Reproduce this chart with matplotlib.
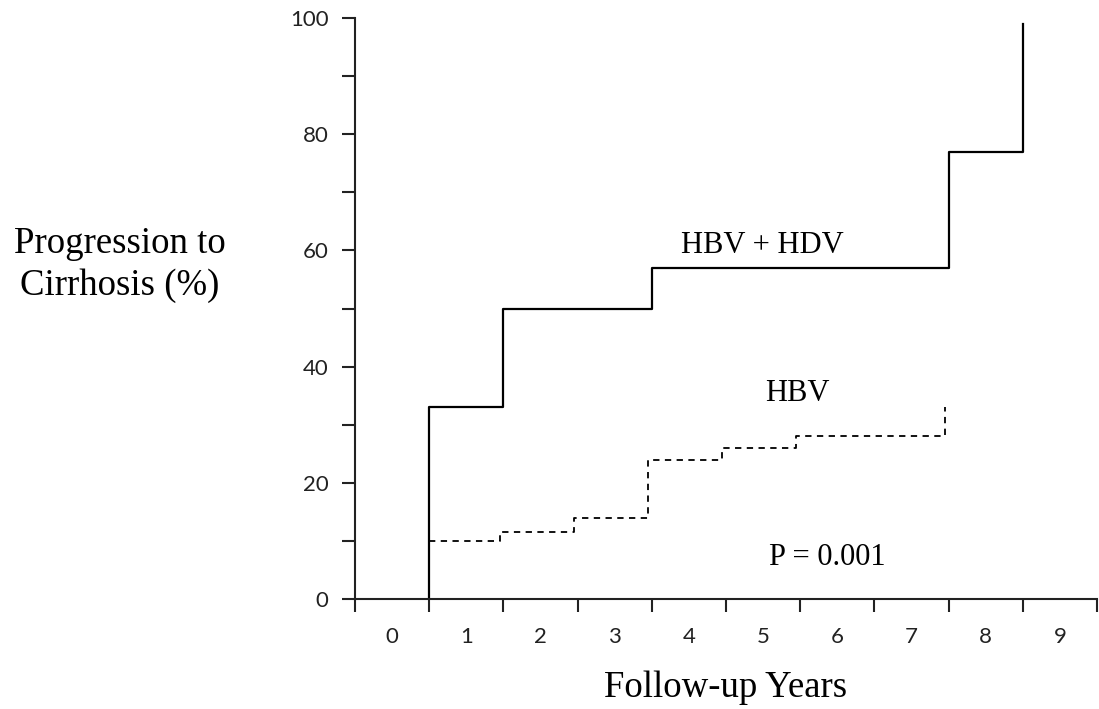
import matplotlib
matplotlib.use('Agg')
import matplotlib.pyplot as plt
import numpy as np

# Data (year positions: label k centred at k, ticks at k +/- 0.5)
year_labels = [str(k) for k in range(10)]
hbv_hdv_time = [0.5, 0.5, 1.5, 3.5, 7.5, 8.5]
hbv_hdv_pct = [0, 33, 50, 57, 77, 99]
hbv_time = [0.5, 1.45, 2.45, 3.45, 4.45, 5.45, 7.45]
hbv_pct = [10, 11.5, 14, 24, 26, 28, 33]
y_major = [0, 20, 40, 60, 80, 100]
y_minor = [10, 30, 50, 70, 90]

fig = plt.figure(figsize=(10.99, 7.09), dpi=100)
ax = fig.add_axes([355/1099, 1-599/709, (1097-355)/1099, (599-18)/709])

ax.step(hbv_hdv_time, hbv_hdv_pct, where='post', color='black', lw=1.6)
ax.step(hbv_time, hbv_pct, where='post', color='black', lw=1.3,
        linestyle=(0, (3.5, 3.0)))

ax.set_xlim(-0.5, 9.5)
ax.set_ylim(0, 100)

for s in ['top', 'right']:
    ax.spines[s].set_visible(False)
for s in ['left', 'bottom']:
    ax.spines[s].set_linewidth(1.5)
    ax.spines[s].set_color('#222222')

ax.set_yticks(y_major)
ax.set_yticklabels([str(v) for v in y_major])
ax.set_yticks(y_minor, minor=True)
ax.set_xticks(np.arange(-0.5, 10, 1))
ax.set_xticklabels([])
ax.set_xticks(range(len(year_labels)), minor=True)
ax.set_xticklabels(year_labels, minor=True)

ax.tick_params(axis='y', which='both', direction='out', length=9.5, width=1.5,
               color='#222222', pad=9.5, labelsize=16)
ax.tick_params(axis='x', which='major', direction='out', length=9.5, width=1.5,
               color='#222222')
ax.tick_params(axis='x', which='minor', length=0, pad=20.5, labelsize=16)
for lab in ax.get_yticklabels() + ax.get_xticklabels(minor=True):
    lab.set_fontfamily('Lato')
    lab.set_color('#222222')

serif = 'Liberation Serif'
ax.text(4.99, 60.8, 'HBV + HDV', family=serif, fontsize=22, ha='center', va='center')
ax.text(5.46, 35.3, 'HBV', family=serif, fontsize=22, ha='center', va='center')
ax.text(5.86, 7.2, 'P = 0.001', family=serif, fontsize=22, ha='center', va='center')

fig.text(120/1099, 1-253/709, 'Progression to', family=serif, fontsize=26.5,
         ha='center', va='baseline')
fig.text(120/1099, 1-295/709, 'Cirrhosis (%)', family=serif, fontsize=26.5,
         ha='center', va='baseline')
fig.text(726/1099, 1-688/709, 'Follow-up Years', family=serif, fontsize=26.5,
         ha='center', va='center')

fig.savefig('out.png', dpi=100)
